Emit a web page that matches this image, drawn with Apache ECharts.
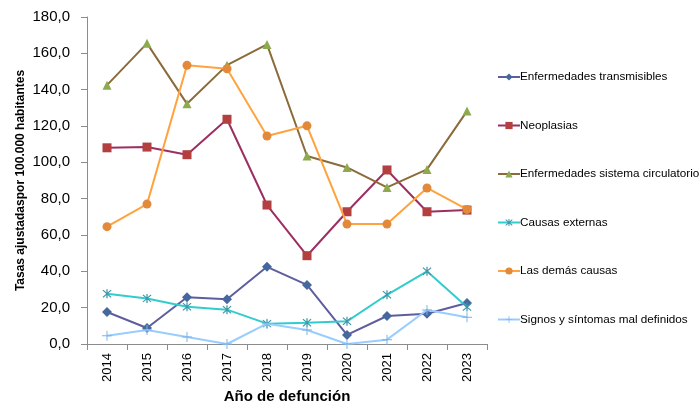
<!DOCTYPE html>
<html>
<head>
<meta charset="utf-8">
<script src="https://cdn.jsdelivr.net/npm/echarts@6/dist/echarts.min.js"></script>
<style>
html,body{margin:0;padding:0;background:#fff;}
#chart{width:699px;height:404px;}
</style>
</head>
<body>
<div id="chart"></div>
<script>
const years = ['2014','2015','2016','2017','2018','2019','2020','2021','2022','2023'];
const transmisibles = [17.6, 8.8, 25.7, 24.6, 42.5, 32.5, 5.0, 15.4, 16.7, 22.6];
const neoplasias = [108.0, 108.4, 104.2, 123.7, 76.5, 48.6, 72.8, 95.8, 72.8, 73.7];
const circulatorio = [142.5, 165.5, 132.2, 153.5, 164.9, 103.5, 97.2, 86.2, 96.1, 128.2];
const externas = [27.7, 25.1, 20.5, 18.9, 11.2, 11.7, 12.5, 27.1, 40.0, 20.4];
const demas = [64.6, 77.0, 153.4, 151.5, 114.5, 120.1, 66.0, 66.0, 85.9, 74.1];
const signos = [4.6, 7.7, 3.9, 0.0, 11.2, 7.7, 0.0, 2.4, 18.7, 14.7];
const seriesNames = ['Enfermedades transmisibles','Neoplasias','Enfermedades sistema circulatorio','Causas externas','Las demás causas','Signos y síntomas mal definidos'];
const yTicks = [0,20,40,60,80,100,120,140,160,180];

const asterisk = 'path://M4.4,0 L5.6,0 L5.6,10 L4.4,10 Z M0.6,1.4 L1.4,0.6 L9.4,8.6 L8.6,9.4 Z M8.6,0.6 L9.4,1.4 L1.4,9.4 L0.6,8.6 Z';
const plus = 'path://M4.5,0 L5.5,0 L5.5,4.5 L10,4.5 L10,5.5 L5.5,5.5 L5.5,10 L4.5,10 L4.5,5.5 L0,5.5 L0,4.5 L4.5,4.5 Z';

const styles = [
  {data: transmisibles, line:'#5E5E9E', mark:'#46689E', symbol:'diamond', size:10},
  {data: neoplasias, line:'#9B2F62', mark:'#B33F40', symbol:'rect', size:9},
  {data: circulatorio, line:'#8A6B3A', mark:'#8DAA4E', symbol:'triangle', size:9},
  {data: externas, line:'#33CCCC', mark:'#3C96A8', symbol:asterisk, size:9},
  {data: demas, line:'#FFA33F', mark:'#E3893A', symbol:'circle', size:9},
  {data: signos, line:'#99CCFF', mark:'#7FB3E8', symbol:plus, size:10}
];

const chart = echarts.init(document.getElementById('chart'), null, {renderer:'canvas'});
const font = 'Liberation Sans, Arial, sans-serif';
chart.setOption({
  animation:false,
  textStyle:{fontFamily:font},
  grid:{left:87, right:212, top:17, bottom:60, containLabel:false, outerBoundsMode:'none'},
  legend:{
    orient:'vertical', left:497, top:71, itemGap:36.5, padding:0,
    itemWidth:22, itemHeight:9,
    textStyle:{fontFamily:font, fontSize:11.7, color:'#000', padding:[0,0,0,-5]},
    data: seriesNames
  },
  xAxis:{
    type:'category', data:years, boundaryGap:true,
    name:'Año de defunción', nameLocation:'middle', nameGap:45,
    nameTextStyle:{fontFamily:font, fontSize:15, fontWeight:'bold', color:'#000'},
    axisLine:{lineStyle:{color:'#8C8C8C', width:1}},
    axisTick:{show:true, alignWithLabel:false, length:6, lineStyle:{color:'#8C8C8C'}},
    axisLabel:{rotate:90, fontSize:13, color:'#000', fontFamily:font, margin:9}
  },
  yAxis:{
    type:'value', min:0, max:180, interval:20,
    name:'Tasas ajustadaspor 100.000 habitantes', nameLocation:'middle', nameGap:60, nameMoveOverlap:false,
    nameTextStyle:{fontFamily:font, fontSize:12, fontWeight:'bold', color:'#000'},
    axisLine:{show:true, lineStyle:{color:'#8C8C8C', width:1}},
    axisTick:{show:true, length:6, lineStyle:{color:'#8C8C8C'}},
    splitLine:{show:false},
    axisLabel:{fontSize:15, color:'#000', fontFamily:font, margin:17,
      formatter: v => yTicks.includes(v) ? v.toFixed(1).replace('.', ',') : ''}
  },
  series: styles.map((s,i)=>({
    name: seriesNames[i], type:'line', data:s.data,
    symbol:s.symbol, symbolSize:s.size,
    lineStyle:{color:s.line, width:2},
    itemStyle:{color:s.mark},
    z: 2+i
  }))
});
</script>
</body>
</html>
